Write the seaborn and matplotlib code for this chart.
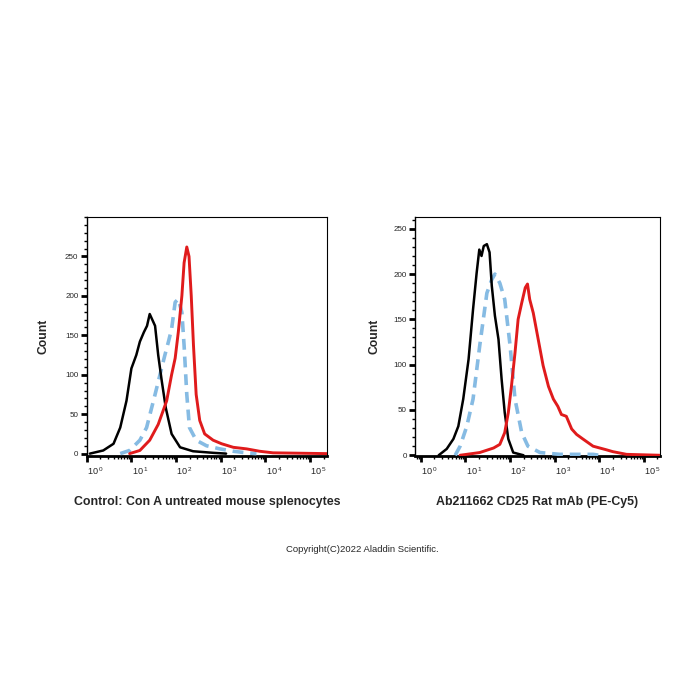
import matplotlib
matplotlib.use("Agg")
import matplotlib.pyplot as plt
import matplotlib.transforms as mtransforms
from matplotlib.ticker import MultipleLocator
import numpy as np
import pandas as pd
import seaborn as sns

# ---- datos (x en log10 de la intensidad, y = Count) ----
# panel izquierdo: Control (Con A untreated)
izq_negro_x = [0.07, 0.37, 0.60, 0.75, 0.89, 1.00, 1.11, 1.19, 1.28, 1.35, 1.41, 1.49, 1.53,
               1.60, 1.68, 1.77, 1.90, 2.09, 2.38, 2.83, 3.12]
izq_negro_y = [0, 4, 12.5, 33, 67, 108, 125, 142, 154, 162, 177, 167, 162,
               125, 92, 58, 25, 8, 3, 1, 0]

izq_rojo_x = [0.96, 1.19, 1.41, 1.60, 1.79, 1.90, 1.98, 2.05, 2.13, 2.18, 2.24, 2.29, 2.34,
              2.39, 2.45, 2.53, 2.64, 2.83, 3.02, 3.28, 3.58, 3.87, 4.17, 5.38]
izq_rojo_y = [0, 4, 17, 37, 67, 100, 121, 154, 200, 242, 262, 250, 200,
              137, 75, 42, 25, 17, 12.5, 8, 6, 3, 1, 0]

izq_azul_x = [0.75, 0.96, 1.19, 1.34, 1.53, 1.64, 1.75, 1.83, 1.90, 1.98, 2.05, 2.13, 2.18,
              2.24, 2.30, 2.45, 2.68, 2.98, 3.28, 3.58, 3.80]
izq_azul_y = [0, 4, 17, 33, 75, 100, 125, 142, 158, 192, 196, 179, 137,
              75, 33, 17, 10, 6, 3, 1, 0]

# panel derecho: Ab211662 CD25
der_negro_x = [0.40, 0.58, 0.73, 0.84, 0.95, 1.07, 1.17, 1.25, 1.31, 1.36, 1.41, 1.48, 1.54,
               1.59, 1.66, 1.74, 1.81, 1.88, 1.96, 2.07, 2.30]
der_negro_y = [0, 7, 18, 32, 62, 106, 161, 201, 227, 220, 231, 233, 224,
               187, 154, 128, 84, 47, 18, 3, 0]

der_rojo_x = [0.88, 1.32, 1.63, 1.77, 1.88, 1.96, 2.03, 2.11, 2.18, 2.26, 2.34, 2.39, 2.44,
              2.52, 2.63, 2.74, 2.86, 2.97, 3.07, 3.15, 3.26, 3.38, 3.49, 3.63, 3.86,
              4.16, 4.30, 4.61, 5.35]
der_rojo_y = [0, 3, 8, 12, 25, 47, 76, 113, 150, 168, 185, 189, 172,
              157, 128, 99, 76, 62, 54, 45, 43, 29, 23, 18, 10,
              6, 4, 1, 0]

der_azul_x = [0.77, 0.88, 1.03, 1.17, 1.32, 1.48, 1.59, 1.66, 1.77, 1.88, 2.00, 2.11, 2.26,
              2.40, 2.67, 3.11, 3.86, 4.00]
der_azul_y = [0, 10, 32, 62, 121, 179, 194, 200, 190, 172, 121, 62, 25,
              10, 3, 1, 1, 0]

exponentes = [0, 1, 2, 3, 4, 5]
etiquetas_x = ['$10^{\\,%d}$' % e for e in exponentes]
ticks_y = [0, 50, 100, 150, 200, 250]

titulo_izq = 'Control: Con A untreated mouse splenocytes'
titulo_der = 'Ab211662 CD25 Rat mAb (PE-Cy5)'
copyright_txt = 'Copyright(C)2022 Aladdin Scientific.'

sns.set_style("ticks")
plt.rcParams['font.family'] = ['Liberation Sans', 'DejaVu Sans']
plt.rcParams['mathtext.default'] = 'regular'

ROJO = '#e01b1c'
AZUL = '#86bbe3'
NEGRO = '#000000'

fig = plt.figure(figsize=(7, 7), dpi=100)
fig.patch.set_facecolor('white')

ax_izq = fig.add_axes([0.1239, 0.3486, 0.3433, 0.3414])
ax_der = fig.add_axes([0.5929, 0.3486, 0.3500, 0.3414])


def dibujar(ax, nx, ny, rx, ry, bx, by, xlim, ylim, xlab):
    df_n = pd.DataFrame({'x': np.power(10.0, nx), 'y': ny})
    df_r = pd.DataFrame({'x': np.power(10.0, rx), 'y': ry})
    df_b = pd.DataFrame({'x': np.power(10.0, bx), 'y': by})
    sns.lineplot(data=df_b, x='x', y='y', color=AZUL, linewidth=2.6, estimator=None,
                 linestyle=(0, (3.0, 1.9)), ax=ax, zorder=3)
    sns.lineplot(data=df_n, x='x', y='y', color=NEGRO, linewidth=1.8, estimator=None, ax=ax, zorder=4)
    sns.lineplot(data=df_r, x='x', y='y', color=ROJO, linewidth=2.1, estimator=None, ax=ax, zorder=5)

    ax.set_xscale('log')
    ax.set_xlim(10 ** xlim[0], 10 ** xlim[1])
    ax.set_ylim(*ylim)
    ax.set_xticks([10.0 ** e for e in exponentes])
    ax.set_xticklabels(etiquetas_x)
    ax.set_yticks(ticks_y)
    ax.yaxis.set_minor_locator(MultipleLocator(10))

    ax.tick_params(axis='both', which='major', direction='out', length=4, width=2.0,
                   color='black', pad=2)
    ax.tick_params(axis='y', which='major', labelsize=5.8)
    ax.tick_params(axis='x', which='major', labelsize=6.6, pad=3)
    ax.tick_params(axis='both', which='minor', direction='out', length=2.4, width=1.0, color='black')

    for s in ['top', 'right']:
        ax.spines[s].set_visible(True)
        ax.spines[s].set_linewidth(0.8)
    ax.spines['left'].set_linewidth(1.0)
    ax.spines['bottom'].set_linewidth(2.0)
    for s in ax.spines.values():
        s.set_color('black')

    ax.set_xlabel('')
    ax.set_ylabel('Count', fontsize=8.7, fontweight='bold')
    ax.yaxis.set_label_coords(xlab, 0.5)
    ax.grid(False)

    # las etiquetas del eje x van corridas a la derecha de la marca
    desplaz = mtransforms.ScaledTranslation(0.085, 0, fig.dpi_scale_trans)
    for lbl in ax.get_xticklabels():
        lbl.set_transform(lbl.get_transform() + desplaz)


dibujar(ax_izq, izq_negro_x, izq_negro_y, izq_rojo_x, izq_rojo_y, izq_azul_x, izq_azul_y,
        (0.0, 5.38), (-3, 300), -0.157)
dibujar(ax_der, der_negro_x, der_negro_y, der_rojo_x, der_rojo_y, der_azul_x, der_azul_y,
        (-0.13, 5.36), (-0.8, 263), -0.139)

fig.text(206.8 / 700, 1 - 502 / 700, titulo_izq, fontsize=8.9, fontweight='bold',
         ha='center', va='center')
fig.text(537.5 / 700, 1 - 502 / 700, titulo_der, fontsize=8.9, fontweight='bold',
         ha='center', va='center')
fig.text(362 / 700, 1 - 550 / 700, copyright_txt, fontsize=6.8, ha='center', va='center')

fig.savefig('out.png', dpi=100, facecolor='white')
